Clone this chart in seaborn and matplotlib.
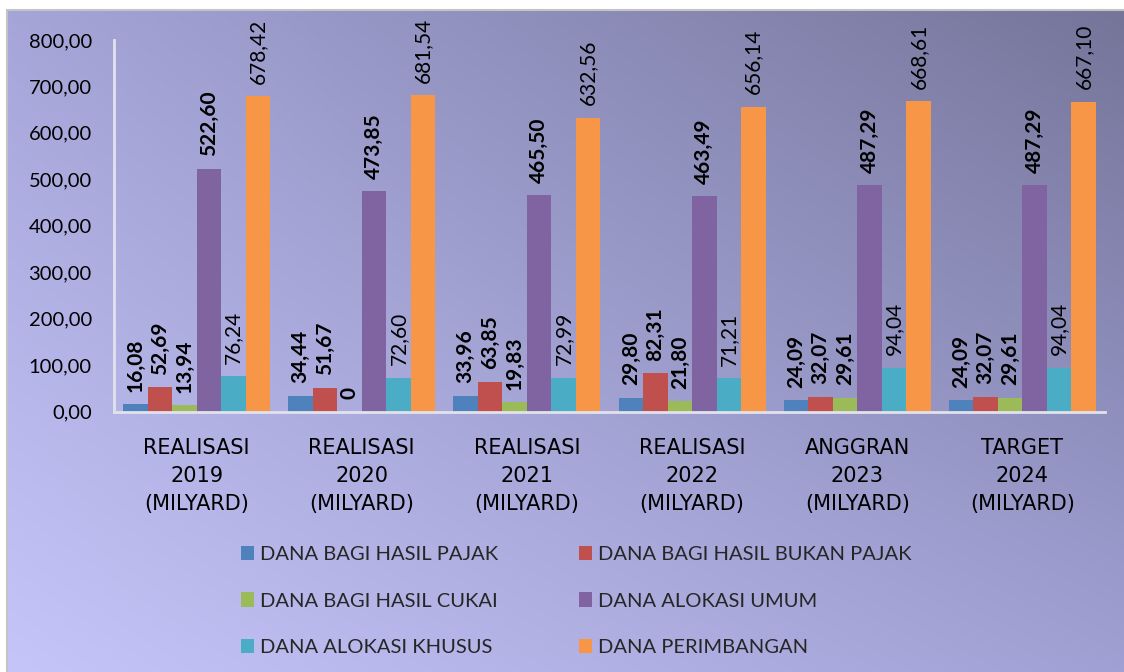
import numpy as np
import pandas as pd
import matplotlib
matplotlib.use("Agg")
import matplotlib.pyplot as plt
from matplotlib.patches import Rectangle
from matplotlib.ticker import FuncFormatter
from matplotlib.font_manager import FontProperties
import seaborn as sns

# data
categories = ["REALISASI\n2019\n(MILYARD)", "REALISASI\n2020\n(MILYARD)", "REALISASI\n2021\n(MILYARD)",
              "REALISASI\n2022\n(MILYARD)", "ANGGRAN\n2023\n(MILYARD)", "TARGET\n2024\n(MILYARD)"]
series_names = ["DANA BAGI HASIL PAJAK", "DANA BAGI HASIL BUKAN PAJAK", "DANA BAGI HASIL CUKAI",
                "DANA ALOKASI UMUM", "DANA ALOKASI KHUSUS", "DANA PERIMBANGAN"]
dbh_pajak = [16.08, 34.44, 33.96, 29.80, 24.09, 24.09]
dbh_bukan_pajak = [52.69, 51.67, 63.85, 82.31, 32.07, 32.07]
dbh_cukai = [13.94, 0, 19.83, 21.80, 29.61, 29.61]
dau = [522.60, 473.85, 465.50, 463.49, 487.29, 487.29]
dak = [76.24, 72.60, 72.99, 71.21, 94.04, 94.04]
dana_perimbangan = [678.42, 681.54, 632.56, 656.14, 668.61, 667.10]
y_ticks = [0, 100, 200, 300, 400, 500, 600, 700, 800]

colors = ["#4F81BD", "#C0504D", "#9BBB59", "#8064A2", "#4BACC6", "#F79646"]
bold_labels = [True, True, True, True, False, False]

# long format table for seaborn
all_values = [dbh_pajak, dbh_bukan_pajak, dbh_cukai, dau, dak, dana_perimbangan]
rows = []
for name, vals in zip(series_names, all_values):
    for cat, v in zip(categories, vals):
        rows.append({"kategori": cat, "dana": name, "nilai": v})
df = pd.DataFrame(rows)

sns.set_style("white")
plt.rcParams["font.family"] = ["Lato", "DejaVu Sans"]

W, H = 1124, 672
fig = plt.figure(figsize=(W / 100, H / 100), dpi=100, facecolor="white")

# gradient background (light bottom-left, dark top-right)
bg = fig.add_axes([8 / W, 0, 1 - 8 / W, 1 - 11 / H], zorder=-5)
tl = np.array([165, 165, 217]) / 255
tr = np.array([117, 117, 154]) / 255
bl = np.array([197, 197, 249]) / 255
br = np.array([160, 160, 212]) / 255
gy, gx = np.mgrid[0:1:200j, 0:1:300j]
grad = ((1 - gy)[..., None] * ((1 - gx)[..., None] * tl + gx[..., None] * tr)
        + gy[..., None] * ((1 - gx)[..., None] * bl + gx[..., None] * br))
bg.imshow(grad, aspect="auto", interpolation="bilinear", extent=(0, 1, 0, 1))
bg.set_axis_off()
fig.patches.append(Rectangle((7 / W, -0.01), 1.1, 1 - 10 / H + 0.01, transform=fig.transFigure,
                             fill=False, edgecolor="#C4C4C4", linewidth=1.5))

ax = fig.add_axes([114 / W, 1 - 411.5 / H, (1105 - 114) / W, (411.5 - 40) / H])
ax.set_facecolor("none")
sns.barplot(data=df, x="kategori", y="nilai", hue="dana", palette=colors, saturation=1,
            width=0.89, ax=ax, edgecolor="none", linewidth=0)

# data labels, rotated like in the original
for cont, vals, bold in zip(ax.containers, all_values, bold_labels):
    labels = ["0" if v == 0 else f"{v:.2f}".replace(".", ",") for v in vals]
    ax.bar_label(cont, labels=labels, padding=9, rotation=90, fontsize=15,
                 fontweight="bold" if bold else "normal", color="black")

ax.set_ylim(0, 800)
ax.set_xlim(-0.5, 5.5)
ax.set_yticks(y_ticks)
ax.yaxis.set_major_formatter(FuncFormatter(lambda v, p: f"{v:.2f}".replace(".", ",")))
ax.tick_params(axis="y", length=0, pad=16, labelsize=14.5, labelcolor="black")
ax.tick_params(axis="x", length=0, pad=19)
ax.set_xticks(range(len(categories)))
cat_font = FontProperties(family="DejaVu Sans", size=15)
ax.set_xticklabels(categories, fontproperties=cat_font, linespacing=1.5, color="black")
ax.set_xlabel(None)
ax.set_ylabel(None)
for s in ["top", "right"]:
    ax.spines[s].set_visible(False)
for s in ["left", "bottom"]:
    ax.spines[s].set_color("#E2E2EC")
    ax.spines[s].set_linewidth(2)

handles, labels = ax.get_legend_handles_labels()
ax.get_legend().remove()
order = [0, 2, 4, 1, 3, 5]
fig.legend([handles[i] for i in order], [labels[i] for i in order], ncol=2, loc="center",
           bbox_to_anchor=(576 / W, 1 - 601 / H), frameon=False, fontsize=14.5,
           handlelength=0.65, handleheight=0.7, handletextpad=0.3, columnspacing=4.0,
           labelspacing=1.45, borderpad=0)

fig.savefig("out.png", dpi=100, facecolor="white")
